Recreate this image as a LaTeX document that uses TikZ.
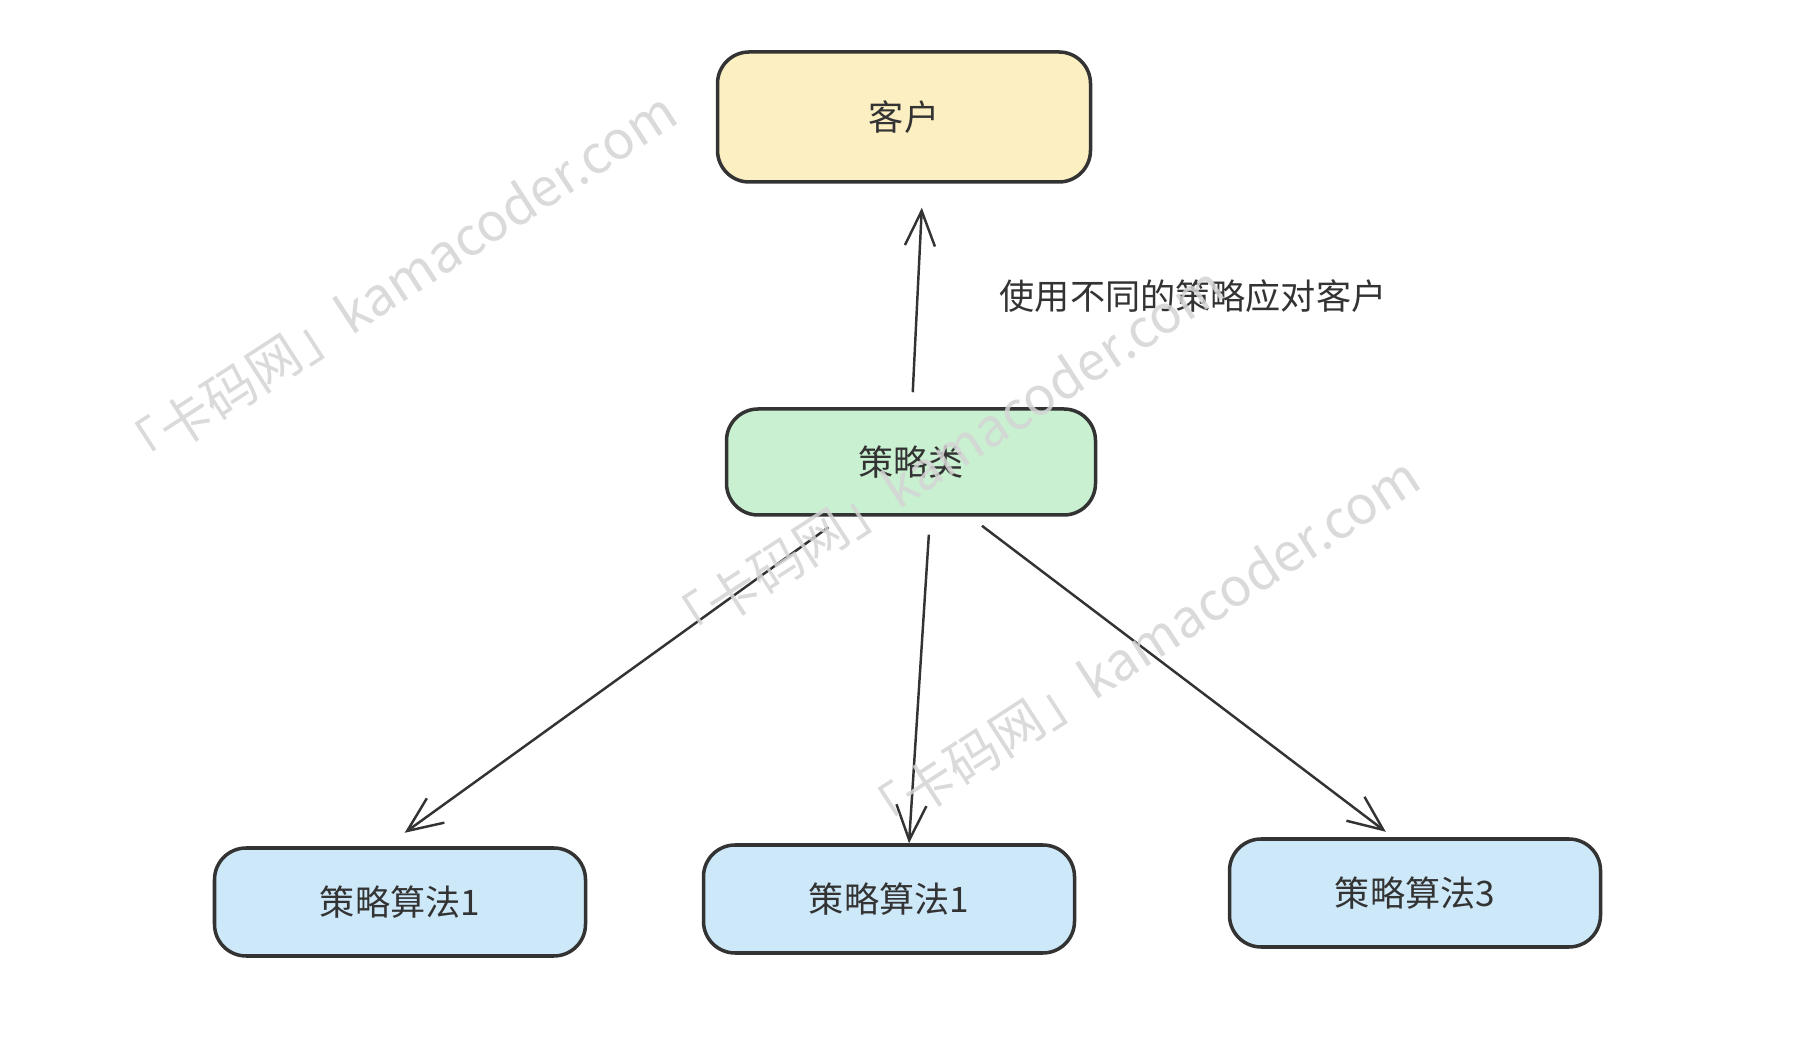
\documentclass[tikz,border=0pt]{standalone}
\usepackage{fontspec}
\setmainfont{Noto Sans CJK SC}
\usetikzlibrary{shapes,arrows.meta,positioning}

\definecolor{inkgray}{HTML}{333333}
\definecolor{clientfill}{HTML}{FCEFC2}
\definecolor{classfill}{HTML}{C9F0D0}
\definecolor{algofill}{HTML}{CDE8F8}
\definecolor{markgray}{HTML}{D4D4D4}

\begin{document}
\begin{tikzpicture}[
        box/.style={draw=inkgray, line width=1pt, rectangle, rounded corners=9pt, align=center, text=inkgray, font=\fontsize{10pt}{12pt}\selectfont, minimum width=3.71cm, minimum height=1.08cm},
        arrow/.style={-{Straight Barb[length=3.5mm, width=3mm]}, draw=inkgray, line width=0.7pt},
        watermark/.style={text=markgray, text opacity=0.85, rotate=33, font=\fontsize{15pt}{18pt}\selectfont}
    ]
        \useasboundingbox (0,0) rectangle (18.16,10.54);

        % Client
        \node[box, fill=clientfill, minimum width=3.73cm, minimum height=1.30cm] (client) at (9.04,9.37) {客户};

        % Strategy class
        \node[box, fill=classfill, minimum width=3.69cm, minimum height=1.06cm] (strategy) at (9.11,5.92) {策略类};
        \node[text=inkgray, font=\fontsize{10pt}{12pt}\selectfont] (usage) at (11.93,7.58) {使用不同的策略应对客户};

        % Algorithms
        \node[box, fill=algofill] (algoA) at (4.00,1.52) {策略算法1};
        \node[box, fill=algofill] (algoB) at (8.89,1.55) {策略算法1};
        \node[box, fill=algofill] (algoC) at (14.15,1.61) {策略算法3};

        % Connections
        \draw[arrow, shorten <=0.15cm, shorten >=0.24cm] ([xshift=0.01cm]strategy.north) -- ([xshift=0.19cm]client.south);
        \draw[arrow, shorten <=0.18cm, shorten >=0.23cm] ([xshift=-0.68cm]strategy.south) -- ([xshift=-0.14cm]algoA.north);
        \draw[arrow, shorten <=0.18cm] ([xshift=0.19cm]strategy.south) -- ([xshift=0.20cm]algoB.north);
        \draw[arrow, shorten <=0.15cm, shorten >=0.09cm] ([xshift=0.59cm]strategy.south) -- ([xshift=-0.22cm]algoC.north);

        % Watermarks
        \node[watermark] (markA) at (3.95,7.70) {「卡码网」kamacoder.com};
        \node[watermark] (markB) at (9.42,5.96) {「卡码网」kamacoder.com};
        \node[watermark] (markC) at (11.38,4.05) {「卡码网」kamacoder.com};

    \end{tikzpicture}
\end{document}
